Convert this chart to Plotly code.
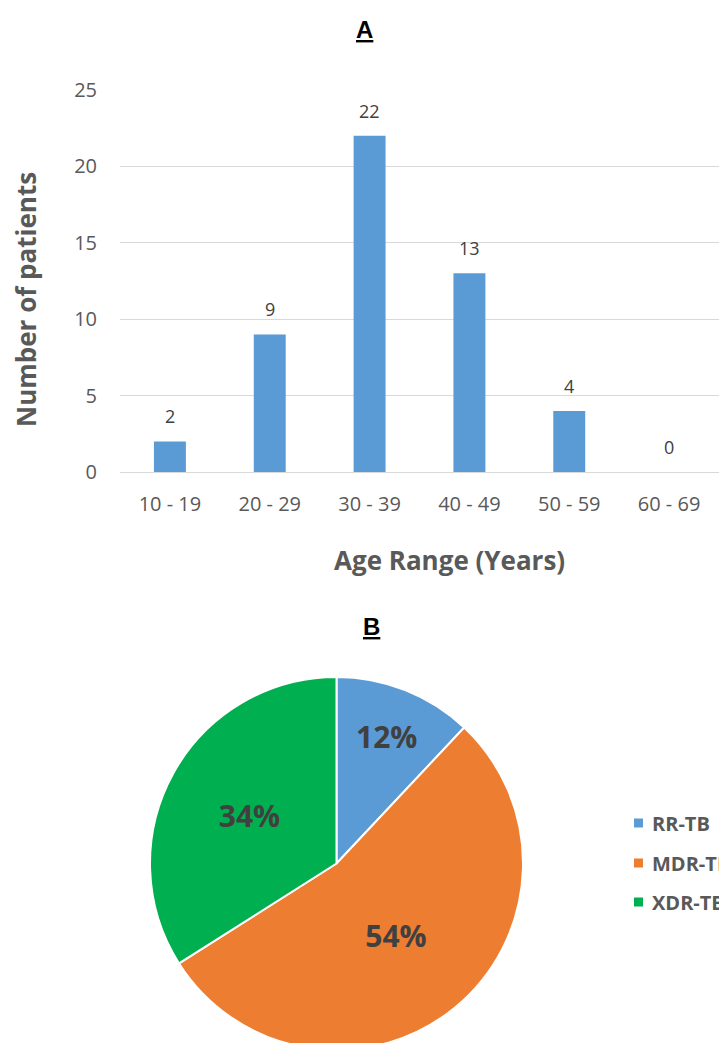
import plotly.graph_objects as go

# --- Panel A: age distribution ---
age_ranges = ["10 - 19", "20 - 29", "30 - 39", "40 - 49", "50 - 59", "60 - 69"]
patients = [2, 9, 22, 13, 4, 0]

# --- Panel B: resistance type ---
tb_types = ["RR-TB", "MDR-TB", "XDR-TB"]
tb_counts = [6, 27, 17]
tb_colors = ["#5B9BD5", "#ED7D31", "#00B050"]

W, H = 719, 1050
BAR_COLOR = "#5B9BD5"
GRID = "#D9D9D9"
AXIS_TEXT = "#595959"
LABEL_TEXT = "#404040"
FONT = "Open Sans"


def px(x):
    return x / W


def py(y):
    return 1 - y / H


fig = go.Figure()

fig.add_trace(go.Bar(
    x=age_ranges,
    y=patients,
    marker=dict(color=BAR_COLOR, line=dict(width=0)),
    width=0.32,
    xaxis="x",
    yaxis="y",
    hoverinfo="x+y",
))

fig.add_trace(go.Pie(
    labels=tb_types,
    values=tb_counts,
    marker=dict(colors=tb_colors, line=dict(color="white", width=2)),
    sort=False,
    direction="clockwise",
    rotation=0,
    textinfo="percent",
    textposition="inside",
    insidetextorientation="horizontal",
    insidetextfont=dict(family=FONT, size=30, color=LABEL_TEXT, weight="bold"),
    domain=dict(x=[px(150), px(523)], y=[0, py(677)]),
    showlegend=False,
))

annotations = []

# value labels above the bars
for cat, val in zip(age_ranges, patients):
    annotations.append(dict(
        x=cat, y=val, xref="x", yref="y",
        text=str(val), showarrow=False,
        yanchor="middle", yshift=25,
        font=dict(family=FONT, size=18, color=LABEL_TEXT),
    ))

# panel titles
annotations.append(dict(
    x=px(365), y=py(29), xref="paper", yref="paper",
    text="<b><u>A</u></b>", showarrow=False,
    xanchor="center", yanchor="middle",
    font=dict(family="Liberation Sans", size=24, color="black"),
))
annotations.append(dict(
    x=px(371), y=py(626), xref="paper", yref="paper",
    text="<b><u>B</u></b>", showarrow=False,
    xanchor="center", yanchor="middle",
    font=dict(family="Liberation Sans", size=24, color="black"),
))

# axis titles
annotations.append(dict(
    x=px(26), y=py(300), xref="paper", yref="paper",
    text="<b>Number of patients</b>", showarrow=False, textangle=-90,
    xanchor="center", yanchor="middle",
    font=dict(family=FONT, size=26, color=AXIS_TEXT),
))
annotations.append(dict(
    x=px(449), y=py(560), xref="paper", yref="paper",
    text="<b>Age Range (Years)</b>", showarrow=False,
    xanchor="center", yanchor="middle",
    font=dict(family=FONT, size=26, color=AXIS_TEXT),
))

# legend for the pie, drawn as swatches plus labels
shapes = []
legend_rows = [823, 863, 902]
for name, col, yc in zip(tb_types, tb_colors, legend_rows):
    shapes.append(dict(
        type="rect", xref="paper", yref="paper",
        x0=px(634), x1=px(643), y0=py(yc + 4.5), y1=py(yc - 4.5),
        fillcolor=col, line=dict(width=0),
    ))
    annotations.append(dict(
        x=px(650), y=py(yc), xref="paper", yref="paper",
        text="<b>" + name + "</b>", showarrow=False,
        xanchor="left", yanchor="middle",
        font=dict(family=FONT, size=20, color=AXIS_TEXT),
    ))

fig.update_layout(
    width=W,
    height=H,
    margin=dict(l=0, r=0, t=0, b=0, pad=0, autoexpand=False),
    paper_bgcolor="white",
    plot_bgcolor="white",
    showlegend=False,
    xaxis=dict(
        domain=[px(120), 1],
        range=[-0.5, 5.5],
        showgrid=False,
        showline=False,
        zeroline=False,
        ticks="",
        ticklabelstandoff=18,
        tickfont=dict(family=FONT, size=20, color=AXIS_TEXT),
        fixedrange=True,
    ),
    yaxis=dict(
        domain=[py(472), py(90)],
        range=[0, 25],
        tickvals=[0, 5, 10, 15, 20, 25],
        showgrid=True,
        gridcolor=GRID,
        gridwidth=1,
        zeroline=True,
        zerolinecolor=GRID,
        zerolinewidth=1,
        showline=False,
        ticks="",
        ticklabelstandoff=22,
        tickfont=dict(family=FONT, size=20, color=AXIS_TEXT),
        fixedrange=True,
    ),
    annotations=annotations,
    shapes=shapes,
)

fig.write_html("out.html")
